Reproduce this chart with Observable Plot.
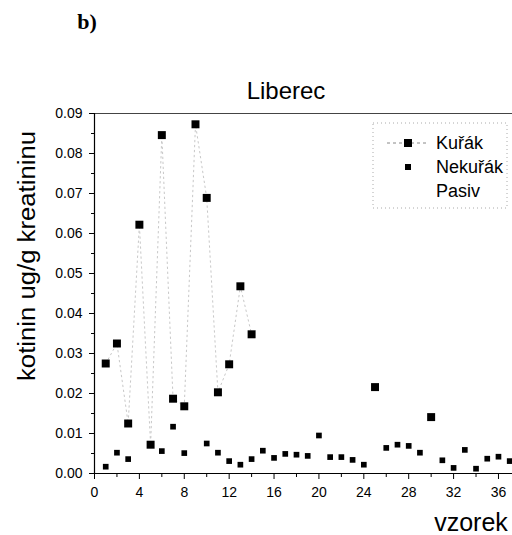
<!DOCTYPE html>
<html><head><meta charset="utf-8">
<script src="https://cdn.jsdelivr.net/npm/d3@7"></script>
<script src="https://cdn.jsdelivr.net/npm/@observablehq/plot@0.6"></script>
<style>body{margin:0;background:#fff} svg{display:block}</style>
</head><body><div id="chart"></div>
<script>
// Kuřák (smokers) – sample number and value
const kurakX = [1, 2, 3, 4, 5, 6, 7, 8, 9, 10, 11, 12, 13, 14, 25, 30];
const kurakY = [0.0275, 0.0325, 0.0125, 0.0622, 0.0072, 0.0846, 0.0187, 0.0168, 0.0873, 0.0689, 0.0203, 0.0273, 0.0468, 0.0348, 0.0216, 0.0141];
// Nekuřák (non-smokers)
const nekurakX = [1, 2, 3, 6, 7, 8, 10, 11, 12, 13, 14, 15, 16, 17, 18, 19, 20, 21, 22, 23, 24, 26, 27, 28, 29, 31, 32, 33, 34, 35, 36, 37];
const nekurakY = [0.0017, 0.0052, 0.0036, 0.0056, 0.0117, 0.0051, 0.0075, 0.0052, 0.0031, 0.0022, 0.0036, 0.0057, 0.0039, 0.0049, 0.0047, 0.0044, 0.0095, 0.0041, 0.0041, 0.0034, 0.0022, 0.0064, 0.0072, 0.0069, 0.0052, 0.0033, 0.0014, 0.0059, 0.0012, 0.0037, 0.0042, 0.0031];
// connected part of the Kuřák series (first 14 samples)
const kurakLineCount = 14;

const xTicks = [0, 4, 8, 12, 16, 20, 24, 28, 32, 36];
const xMinorTicks = [2, 6, 10, 14, 18, 22, 26, 30, 34];
const yTicks = [0, 0.01, 0.02, 0.03, 0.04, 0.05, 0.06, 0.07, 0.08, 0.09];
const yMinorTicks = [0.005, 0.015, 0.025, 0.035, 0.045, 0.055, 0.065, 0.075, 0.085];

const title = "Liberec";
const panelLabel = "b)";
const yLabel = "kotinin ug/g kreatininu";
const xLabel = "vzorek";
const legendNames = ["Kuřák", "Nekuřák", "Pasiv"];

const kurak = kurakX.map((x, i) => ({x, y: kurakY[i]}));
const kurakLine = kurak.slice(0, kurakLineCount);
const nekurak = nekurakX.map((x, i) => ({x, y: nekurakY[i]}));

const font = "'Liberation Sans', Arial, Helvetica, sans-serif";

const svg = Plot.plot({
  width: 512,
  height: 535,
  marginLeft: 94,
  marginRight: 0,
  marginTop: 113,
  marginBottom: 62,
  style: {fontFamily: font, fontSize: "14px", color: "black", background: "white"},
  x: {domain: [0, 37.25]},
  y: {domain: [0, 0.09]},
  marks: [
    Plot.ruleY([0.09], {stroke: "#444", strokeWidth: 1.2}),
    Plot.ruleY([0], {stroke: "black", strokeWidth: 1.2}),
    Plot.ruleX([0], {stroke: "black", strokeWidth: 1.2}),
    Plot.axisX({ticks: xTicks, tickSize: 6, tickPadding: 8, fontSize: 14, tickFormat: d => String(d), label: null}),
    Plot.axisX({ticks: xMinorTicks, tickSize: 4, tickFormat: () => "", label: null}),
    Plot.axisY({ticks: yTicks, tickSize: 5, tickPadding: 7, fontSize: 14, tickFormat: d3.format(".2f"), label: null}),
    Plot.axisY({ticks: yMinorTicks, tickSize: 3, tickFormat: () => "", label: null}),
    Plot.line(kurakLine, {x: "x", y: "y", stroke: "#c8c8c8", strokeWidth: 1, strokeDasharray: "1.5,3.5"}),
    Plot.dot(nekurak, {x: "x", y: "y", symbol: "square", r: 3.2, fill: "black", stroke: null}),
    Plot.dot(kurak, {x: "x", y: "y", symbol: "square", r: 4.5, fill: "black", stroke: null})
  ]
});

const s = d3.select(svg);
s.append("text").attr("x", 87).attr("y", 29).attr("text-anchor", "middle")
  .attr("font-family", "'Liberation Serif', 'Times New Roman', serif").attr("font-weight", "bold")
  .attr("font-size", 22).attr("fill", "black").text(panelLabel);
s.append("text").attr("x", 286).attr("y", 99).attr("text-anchor", "middle")
  .attr("font-family", font).attr("font-size", 24).attr("fill", "black").text(title);
s.append("text").attr("transform", "translate(35,256) rotate(-90)").attr("text-anchor", "middle")
  .attr("font-family", font).attr("font-size", 23).attr("textLength", 250).attr("lengthAdjust", "spacingAndGlyphs")
  .attr("fill", "black").text(yLabel);
s.append("text").attr("x", 471).attr("y", 531).attr("text-anchor", "middle")
  .attr("font-family", font).attr("font-size", 25).attr("fill", "black").text(xLabel);

// legend
const lg = s.append("g");
lg.append("rect").attr("x", 373).attr("y", 123).attr("width", 134).attr("height", 85)
  .attr("fill", "white").attr("stroke", "#aaa").attr("stroke-dasharray", "1,3");
lg.append("line").attr("x1", 387).attr("x2", 428).attr("y1", 143).attr("y2", 143)
  .attr("stroke", "#888").attr("stroke-dasharray", "3,3");
lg.append("rect").attr("x", 404).attr("y", 139).attr("width", 8).attr("height", 8).attr("fill", "black");
lg.append("rect").attr("x", 405).attr("y", 164).attr("width", 6).attr("height", 6).attr("fill", "black");
const ly = [149, 173, 197];
legendNames.forEach((n, i) => {
  lg.append("text").attr("x", 436).attr("y", ly[i]).attr("text-anchor", "start")
    .attr("font-family", font).attr("font-size", 18).attr("fill", "black").text(n);
});

document.getElementById("chart").appendChild(svg);
</script>
</body></html>
